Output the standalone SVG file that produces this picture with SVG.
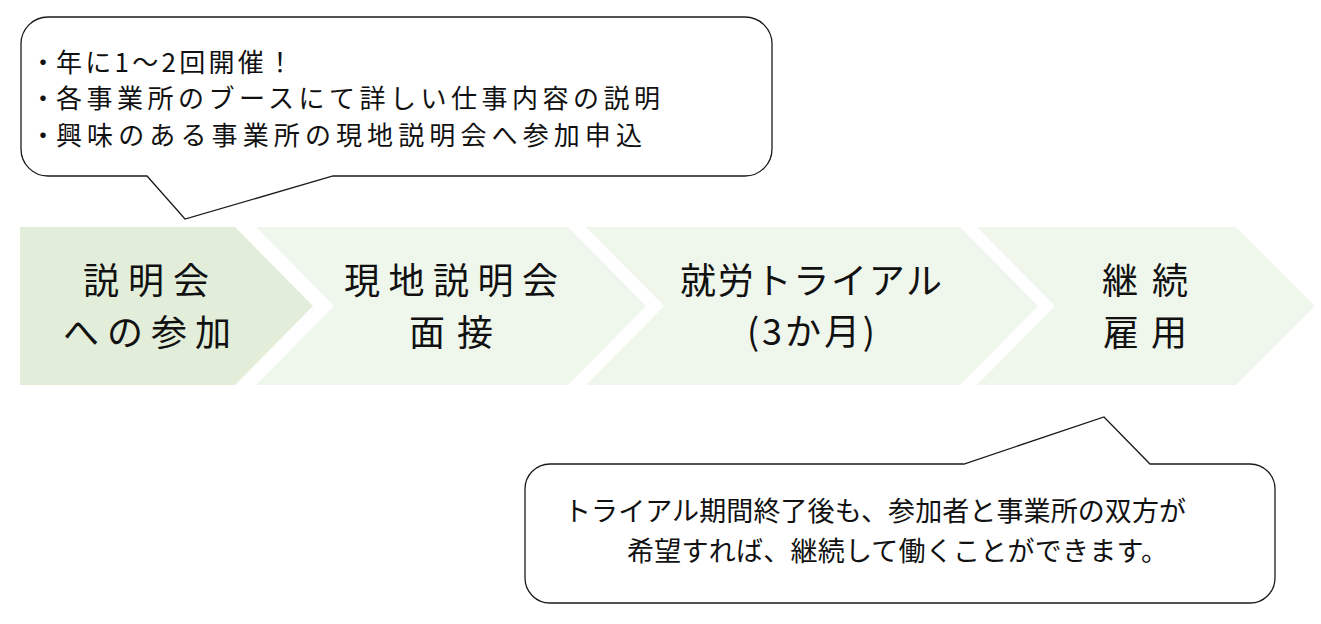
<svg xmlns="http://www.w3.org/2000/svg" width="1321" height="624" viewBox="0 0 1321 624">
  <style>
    .jp { font-family: "Noto Sans CJK JP", "Noto Sans", sans-serif; fill: #111; }
    .step { font-size: 36px; text-anchor: middle; }
    .call { font-size: 26px; }
    .call2 { font-size: 27px; }
    .bubble { fill: #ffffff; stroke: #1a1a1a; stroke-width: 1.3; stroke-linejoin: miter; }
    .c1 { fill: #e2eed9; }
    .c2 { fill: #eff6eb; }
  </style>
  <rect width="1321" height="624" fill="#ffffff"/>

  <g id="step1">
    <polygon class="c1" points="20,227 235,227 313,306 235,385 20,385"/>
    <text class="jp step" x="146" y="294" textLength="126" lengthAdjust="spacing">説明会</text>
    <text class="jp step" x="147" y="346" textLength="168" lengthAdjust="spacing">への参加</text>
  </g>

  <g id="step2">
    <polygon class="c2" points="256,227 568,227 646,306 568,385 256,385 334,306"/>
    <text class="jp step" x="451" y="294" textLength="214" lengthAdjust="spacing">現地説明会</text>
    <text class="jp step" x="451" y="346" textLength="84" lengthAdjust="spacing">面接</text>
  </g>

  <g id="step3">
    <polygon class="c2" points="586,227 960,227 1038,306 960,385 586,385 664,306"/>
    <text class="jp step" x="811" y="294" textLength="262" lengthAdjust="spacing">就労トライアル</text>
    <text class="jp step" x="811" y="345" textLength="128" lengthAdjust="spacing">(3か月)</text>
  </g>

  <g id="step4">
    <polygon class="c2" points="977,227 1236,227 1315,306 1236,385 977,385 1055,306"/>
    <text class="jp step" x="1145" y="294" textLength="86" lengthAdjust="spacing">継続</text>
    <text class="jp step" x="1145" y="346" textLength="84" lengthAdjust="spacing">雇用</text>
  </g>

  <g id="callout-top">
    <path class="bubble" d="M 48,17 H 745 A 27 27 0 0 1 772 44 V 149 A 27 27 0 0 1 745 176 H 333 L 185 219 L 147 176 H 48 A 27 27 0 0 1 21 149 V 44 A 27 27 0 0 1 48 17 Z"/>
    <text class="jp call" x="30" y="72">・<tspan x="56" textLength="237" lengthAdjust="spacing">年に1～2回開催！</tspan></text>
    <text class="jp call" x="30" y="108">・<tspan x="56" textLength="604" lengthAdjust="spacing">各事業所のブースにて詳しい仕事内容の説明</tspan></text>
    <text class="jp call" x="30" y="145">・<tspan x="56" textLength="586" lengthAdjust="spacing">興味のある事業所の現地説明会へ参加申込</tspan></text>
  </g>

  <g id="callout-bottom">
    <path class="bubble" d="M 550,464 H 964 L 1104 417 L 1150 464 H 1250 A 25 25 0 0 1 1275 489 V 578 A 25 25 0 0 1 1250 603 H 550 A 25 25 0 0 1 525 578 V 489 A 25 25 0 0 1 550 464 Z"/>
    <text class="jp call2" x="564" y="521" textLength="622" lengthAdjust="spacing">トライアル期間終了後も、参加者と事業所の双方が</text>
    <text class="jp call2" x="627" y="561" textLength="541" lengthAdjust="spacing">希望すれば、継続して働くことができます。</text>
  </g>
</svg>
